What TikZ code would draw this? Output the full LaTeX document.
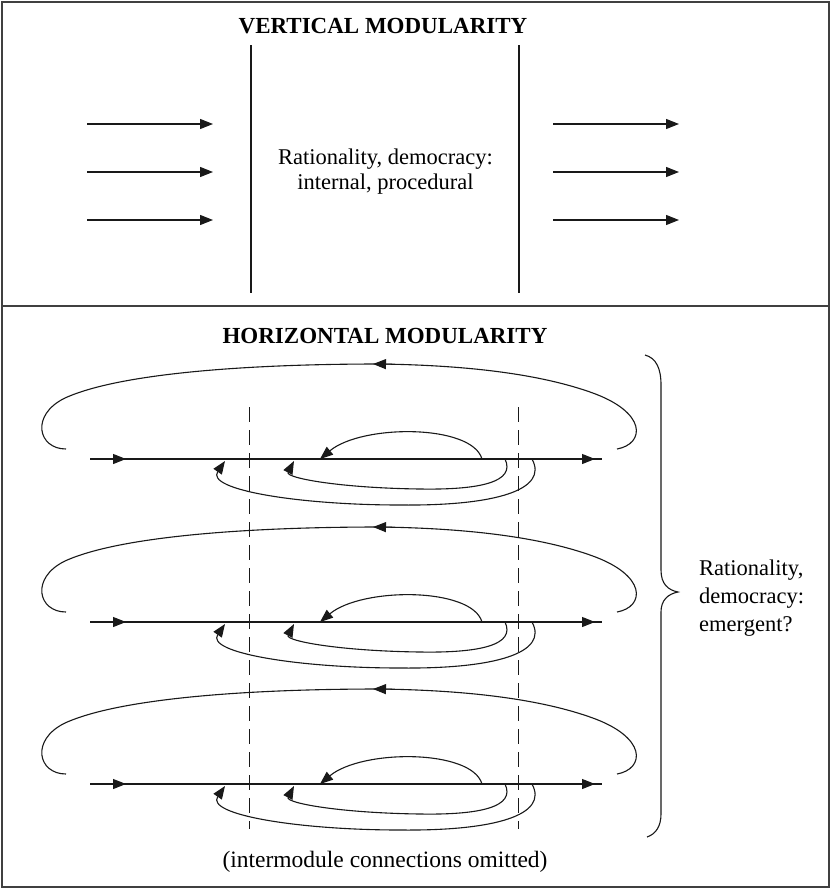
\documentclass[tikz,border=0pt]{standalone}
\usepackage{fontspec}
\setmainfont{Liberation Serif}
\usetikzlibrary{arrows.meta}
\begin{document}
\begin{tikzpicture}[x=1pt,y=-1pt,
  frame/.style={line width=1.8pt, draw=black!75},
  thin/.style={line width=1.1pt, draw=black!90},
  flow/.style={line width=1.1pt, draw=black!90, -{Triangle[length=13pt,width=10pt]}},
  guide/.style={line width=1pt, draw=black!90, dash pattern=on 15pt off 8pt},
  txt/.style={inner sep=0pt, anchor=base, font=\fontsize{22.5}{26}\selectfont},
  ttl/.style={inner sep=0pt, anchor=base, font=\fontsize{23}{26}\selectfont\bfseries}
]
\useasboundingbox (0,0) rectangle (831,889);
\fill[white] (0,0) rectangle (831,889);

% frame
\draw[frame] (2,2) rectangle (829,887);
\draw[frame] (2,306) -- (829,306);

% ---------- vertical modularity ----------
\node[ttl] (vt) at (383,33) {VERTICAL MODULARITY};
\draw[thin] (251,45) -- (251,293);
\draw[thin] (519,45) -- (519,293);
\node[txt] (v1) at (385.5,164) {Rationality, democracy:};
\node[txt] (v2) at (385.5,189) {internal, procedural};
\foreach \yy in {124,172,220}{
  \draw[flow] (87,\yy) -- (213,\yy);
  \draw[flow] (553,\yy) -- (679,\yy);
}

% ---------- horizontal modularity ----------
\node[ttl] (ht) at (385,343) {HORIZONTAL MODULARITY};

\foreach \dy in {0,163,325}{
\begin{scope}[shift={(0,\dy)}]
  % main line
  \draw[thin, line width=1.3pt] (90,459) -- (602,459);
  \draw[flow] (110,459) -- (126,459);
  \draw[flow] (580,459) -- (595,459);
  % big outer loop
  \draw[thin] (617,449) .. controls (645,444) and (648,412) .. (590,392)
     .. controls (530,371) and (450,365) .. (380,364)
     .. controls (250,364) and (120,373) .. (65,398)
     .. controls (30,415) and (38,449) .. (66,449);
  \draw[flow] (392,364.2) -- (373,364);
  % inner upper loop
  \draw[flow] (482,459) .. controls (472,424) and (362,424) .. (320,459);
  % inner lower loop
  \draw[flow] (505,459) .. controls (516,482) and (480,490) .. (420,489)
              .. controls (340,488) and (285,478) .. (294,461);
  % outer lower loop
  \draw[flow] (532,459) .. controls (549,490) and (495,506) .. (400,505)
              .. controls (300,505) and (205,490) .. (225,461);
\end{scope}
}

% dashed module boundaries
\draw[guide] (249,407) -- (249,829);
\draw[guide] (518,407) -- (518,829);

% brace
\draw[thin] (645,355) .. controls (656,358) and (661,368) .. (661,385)
  -- (661,570) .. controls (661,584) and (668,590) .. (678,592)
  .. controls (668,594) and (661,600) .. (661,612)
  -- (661,814) .. controls (661,826) and (656,834) .. (647,837);

\node[txt, anchor=base west] (r1) at (699,575) {Rationality,};
\node[txt, anchor=base west] (r2) at (699,603) {democracy:};
\node[txt, anchor=base west] (r3) at (699,631) {emergent?};

\node[txt, font=\fontsize{23.5}{26}\selectfont] (foot) at (385,867) {(intermodule connections omitted)};
\end{tikzpicture}
\end{document}
